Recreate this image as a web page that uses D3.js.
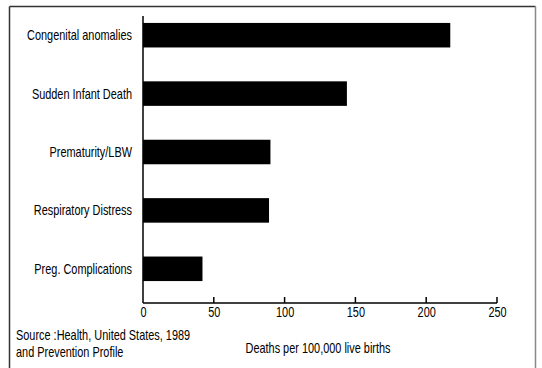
<!DOCTYPE html>
<html>
<head>
<meta charset="utf-8">
<script src="https://cdn.jsdelivr.net/npm/d3@7"></script>
<style>
  body { margin: 0; background: #fff; }
  svg text { font-family: "Liberation Sans", Arial, sans-serif; fill: #000; }
</style>
</head>
<body>
<div id="chart"></div>
<script>
'use strict';

const causes = ['Congenital anomalies', 'Sudden Infant Death', 'Prematurity/LBW',
                'Respiratory Distress', 'Preg. Complications'];
const deaths = [217, 144, 90, 89, 42];
const ticks = [0, 50, 100, 150, 200, 250];
const sourceLines = ['Source :Health, United States, 1989', 'and Prevention Profile'];
const axisTitle = 'Deaths per 100,000 live births';

const width = 542, height = 368;
const squeeze = 0.78;   // the original face is a condensed sans

const svg = d3.select('#chart').append('svg')
    .attr('width', width)
    .attr('height', height);

// outer frame, bottom edge runs off the picture
const frame = svg.append('g')
    .attr('stroke', '#333')
    .attr('stroke-width', 1.5);
frame.append('line').attr('x1', 9.5).attr('x2', 9.5).attr('y1', 6.5).attr('y2', height);
frame.append('line').attr('x1', 9.5).attr('x2', 535.5).attr('y1', 6.5).attr('y2', 6.5);
frame.append('line').attr('x1', 535.5).attr('x2', 535.5).attr('y1', 6.5).attr('y2', height)
    .attr('stroke', '#888');

const x = d3.scaleLinear()
    .domain([0, 250])
    .range([143, 497]);

const y = d3.scaleBand()
    .domain(causes)
    .range([6, 298])
    .paddingInner(0.58)
    .paddingOuter(0.29);

const baseY = 303;

svg.selectAll('.bar')
    .data(causes)
  .enter().append('rect')
    .attr('class', 'bar')
    .attr('x', x(0))
    .attr('y', d => y(d))
    .attr('width', (d, i) => x(deaths[i]) - x(0))
    .attr('height', y.bandwidth())
    .attr('fill', '#000');

const xAxis = d3.axisBottom(x)
    .tickValues(ticks)
    .tickSize(0)
    .tickPadding(4)
    .tickFormat(d3.format('d'));

const gx = svg.append('g')
    .attr('transform', `translate(0, ${baseY})`)
    .call(xAxis);
gx.select('.domain').remove();
gx.selectAll('text')
    .attr('font-size', 14)
    .attr('font-family', null)
    .attr('transform', `scale(${squeeze},1)`)
    .attr('x', d => x(d) * 0 );
gx.selectAll('.tick text')
    .attr('x', 0);

// inward tick marks
svg.selectAll('.tick-up')
    .data(ticks.slice(1))
  .enter().append('line')
    .attr('class', 'tick-up')
    .attr('x1', d => x(d))
    .attr('x2', d => x(d))
    .attr('y1', baseY)
    .attr('y2', baseY - 6)
    .attr('stroke', '#000')
    .attr('stroke-width', 1.5);

svg.append('line')
    .attr('x1', x(0)).attr('x2', x(250))
    .attr('y1', baseY).attr('y2', baseY)
    .attr('stroke', '#000')
    .attr('stroke-width', 1.5);

svg.append('line')
    .attr('x1', x(0)).attr('x2', x(0))
    .attr('y1', 16).attr('y2', baseY)
    .attr('stroke', '#000')
    .attr('stroke-width', 1.5);

svg.selectAll('.label')
    .data(causes)
  .enter().append('text')
    .attr('class', 'label')
    .attr('transform', d => `translate(132, ${y(d) + y.bandwidth() / 2}) scale(${squeeze},1)`)
    .attr('dy', '0.35em')
    .attr('text-anchor', 'end')
    .attr('font-size', 14)
    .text(d => d);

svg.selectAll('.source')
    .data(sourceLines)
  .enter().append('text')
    .attr('class', 'source')
    .attr('transform', (d, i) => `translate(16, ${335 + i * 17}) scale(${squeeze},1)`)
    .attr('dy', '0.35em')
    .attr('font-size', 14)
    .text(d => d);

svg.append('text')
    .attr('transform', `translate(318, 348) scale(${squeeze},1)`)
    .attr('dy', '0.35em')
    .attr('text-anchor', 'middle')
    .attr('font-size', 14)
    .text(axisTitle);
</script>
</body>
</html>
